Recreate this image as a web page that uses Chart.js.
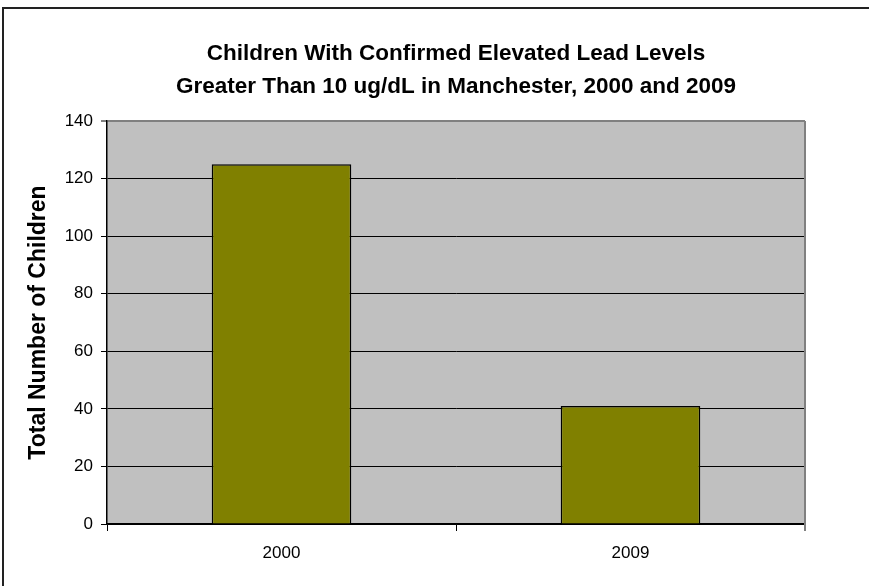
<!DOCTYPE html>
<html>
<head>
<meta charset="utf-8">
<script src="https://cdn.jsdelivr.net/npm/chart.js@4"></script>
<style>
  html, body { margin: 0; padding: 0; background: #fff; }
  #wrap { width: 869px; height: 586px; position: relative; }
</style>
</head>
<body>
<div id="wrap"><canvas id="c" width="869" height="586"></canvas></div>
<script>
const categories = ['2000', '2009'];
const childrenCounts = [125, 41];
const titleLines = ['Children With Confirmed Elevated Lead Levels', 'Greater Than 10 ug/dL in Manchester, 2000 and 2009'];
const yAxisTitle = 'Total Number of Children';
const yMin = 0, yMax = 140, yStep = 20;

const FONT = "'Liberation Sans', Arial, sans-serif";

const decor = {
  id: 'decor',
  beforeDraw(chart) {
    const { ctx, chartArea: a } = chart;
    ctx.save();
    ctx.fillStyle = '#ffffff';
    ctx.fillRect(0, 0, chart.width, chart.height);
    ctx.fillStyle = '#C0C0C0';
    ctx.fillRect(a.left, a.top, a.right - a.left, a.bottom - a.top);
    ctx.strokeStyle = '#222222';
    ctx.lineWidth = 2;
    ctx.beginPath();
    ctx.moveTo(3, chart.height + 10);
    ctx.lineTo(3, 8);
    ctx.lineTo(chart.width + 10, 8);
    ctx.stroke();
    ctx.restore();
  },
  afterDatasetsDraw(chart) {
    const { ctx, chartArea: a } = chart;
    ctx.save();
    ctx.strokeStyle = '#808080';
    ctx.lineWidth = 2;
    ctx.beginPath();
    ctx.moveTo(a.right, a.top);
    ctx.lineTo(a.right, a.bottom + 7);
    ctx.stroke();
    ctx.restore();
  }
};

new Chart(document.getElementById('c'), {
  type: 'bar',
  data: {
    labels: categories,
    datasets: [{
      data: childrenCounts,
      backgroundColor: '#808000',
      borderColor: '#000000',
      borderWidth: 1.5,
      barPercentage: 0.4,
      categoryPercentage: 1.0
    }]
  },
  options: {
    responsive: false,
    animation: false,
    layout: { padding: { left: 0, right: 64, top: 0, bottom: 0 } },
    plugins: {
      legend: { display: false },
      tooltip: { enabled: false },
      title: {
        display: true,
        text: titleLines,
        fullSize: false,
        color: '#000',
        font: { family: FONT, size: 22.5, weight: 'bold', lineHeight: 1.4667 },
        padding: { top: 37, bottom: 18 }
      }
    },
    scales: {
      x: {
        grid: {
          display: true,
          drawOnChartArea: false,
          drawTicks: true,
          tickLength: 7,
          color: (c) => (c.index === categories.length ? '#808080' : '#000000'),
          lineWidth: 1
        },
        border: { display: true, color: '#000000', width: 1.5 },
        ticks: { color: '#000', font: { family: FONT, size: 17 }, padding: 12 },
        afterFit(scale) { scale.height = 62; }
      },
      y: {
        min: yMin,
        max: yMax,
        ticks: { stepSize: yStep, color: '#000', font: { family: FONT, size: 17 }, padding: 8 },
        grid: {
          color: (c) => (c.tick && c.tick.value === yMax ? '#808080' : '#000000'),
          lineWidth: (c) => (c.tick && c.tick.value === yMax ? 2 : 1),
          tickLength: 6
        },
        border: { display: true, color: '#000000', width: 1.5 },
        title: {
          display: true,
          text: yAxisTitle,
          color: '#000',
          font: { family: FONT, size: 23, weight: 'bold' },
          padding: { top: 25, bottom: 0 }
        },
        afterFit(scale) { scale.width = 107; }
      }
    }
  },
  plugins: [decor]
});
</script>
</body>
</html>
